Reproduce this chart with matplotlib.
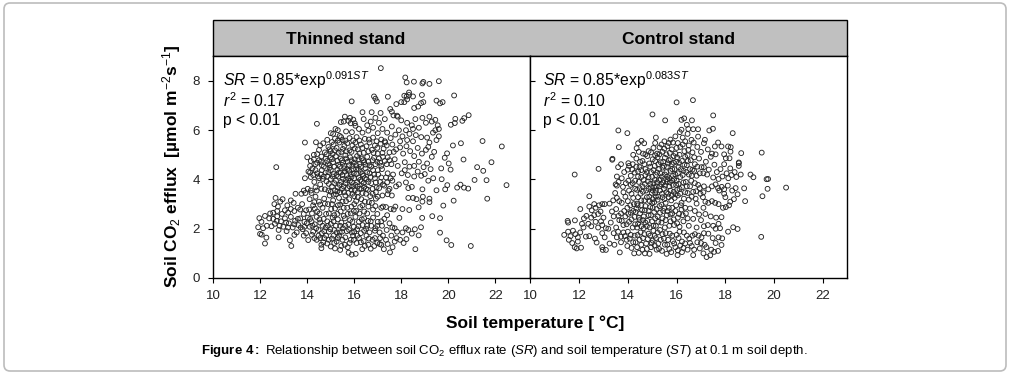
import numpy as np
import matplotlib
matplotlib.use('Agg')
import matplotlib.pyplot as plt
from matplotlib.patches import FancyBboxPatch, Rectangle

plt.rcParams['font.family'] = ['Liberation Sans', 'DejaVu Sans']
plt.rcParams['mathtext.fontset'] = 'custom'
plt.rcParams['mathtext.rm'] = 'Liberation Sans'
plt.rcParams['mathtext.it'] = 'Liberation Sans:italic'
plt.rcParams['mathtext.bf'] = 'Liberation Sans:bold'

W, H = 1016, 377

xticks = [10, 12, 14, 16, 18, 20, 22]
yticks = [0, 2, 4, 6, 8]

# punkty: (temperatura, efflux)
thinned = [
 # outer top
 (17.13,8.52),(18.17,8.14),(18.23,7.94),(18.54,7.97),(18.9,7.9),(18.94,7.96),(19.2,7.88),(19.6,7.99),(20.25,7.41),
 (19.5,7.2),(19.76,7.14),(19.65,7.09),(18.88,7.43),(18.94,7.14),(18.84,7.1),(18.55,6.9),(18.72,6.96),(18.13,7.14),
 (18.0,7.14),(18.23,7.37),(18.33,7.53),(18.13,7.4),(18.5,7.37),(18.33,7.43),(17.43,7.36),(16.84,7.37),(16.9,7.28),
 (16.96,7.17),(15.89,7.17),(17.79,7.06),(18.25,7.25),(16.35,6.73),(16.74,6.73),(17.12,6.7),(17.53,6.86),(17.6,6.75),
 (17.67,6.6),(17.82,6.59),(15.43,6.33),(14.41,6.26),(15.82,6.5),(15.96,6.43),(15.75,6.38),(16.02,6.28),(20.87,6.61),
 (20.68,6.49),(20.6,6.38),(20.3,6.46),(20.28,6.29),(20.11,6.22),(20.54,5.47),(20.2,5.38),(21.46,5.56),(22.28,5.34),
 (21.84,4.7),(20.65,4.81),(19.95,5.06),(19.85,4.88),(20.02,4.65),(13.9,5.5),(14.37,5.51),(14.68,5.47),(14.85,5.61),
 (15.0,5.88),(15.3,6.0),(15.38,5.77),
 # y 5.5 - 7
 (15.6,6.55),(15.55,6.35),(15.85,6.28),(16.05,6.18),(16.55,6.2),(16.4,6.45),(16.7,6.35),(16.9,6.5),(17.05,6.3),
 (17.3,6.45),(17.85,6.55),(18.0,6.4),(18.25,6.3),(18.45,6.2),(18.6,6.45),(18.75,6.1),(18.9,6.5),(19.05,6.3),(19.2,6.55),
 (19.3,6.35),(19.45,6.42),(19.55,6.2),(19.6,6.05),(19.45,6.0),(19.35,5.9),(16.2,6.05),(16.8,6.1),(17.2,6.05),(17.6,6.15),
 (17.9,6.0),(18.2,6.0),(18.5,6.05),(15.2,6.05),(15.1,5.85),(15.65,5.95),(15.9,5.92),(16.35,5.9),(16.6,5.98),(17.0,5.88),
 (17.4,5.9),(17.75,5.82),(18.05,5.75),(18.35,5.85),(18.62,5.8),(18.85,5.72),(19.1,5.7),(19.5,5.6),(19.6,5.75),(15.5,5.6),
 (15.8,5.68),(16.1,5.72),(16.45,5.65),(16.8,5.7),(17.15,5.62),(17.55,5.68),(17.95,5.55),(18.25,5.6),(18.5,5.55),(19.2,5.5),
 # y 4.5 - 5.5
 (14.42,5.03),(14.5,5.2),(14.6,4.93),(14.75,5.1),(14.9,5.32),(15.0,5.15),(15.12,5.42),(15.25,5.28),(15.37,5.5),(15.45,5.12),
 (15.58,5.36),(15.7,5.47),(15.8,5.18),(15.92,5.38),(16.05,5.5),(16.15,5.22),(16.28,5.42),(16.4,5.08),(16.52,5.35),(16.65,5.5),
 (16.75,5.2),(16.88,5.38),(17.0,5.05),(17.12,5.45),(17.25,5.25),(17.38,5.38),(17.5,5.1),(17.62,5.42),(17.78,5.22),(17.95,5.3),
 (18.08,5.05),(18.22,5.35),(18.38,5.15),(18.55,4.95),(18.7,5.28),(18.88,5.05),(19.05,5.2),(19.15,5.32),(19.3,4.92),(19.4,5.12),
 (14.0,4.9),(14.15,4.75),(14.28,5.0),(14.35,4.62),(14.5,4.78),(14.62,4.58),(14.78,4.85),(14.88,4.62),(15.0,4.9),(15.1,4.7),
 (15.22,4.95),(15.32,4.6),(15.42,4.85),(15.52,4.68),(15.62,4.98),(15.72,4.72),(15.82,4.9),(15.92,4.55),(16.02,4.82),(16.12,4.95),
 (16.22,4.62),(16.32,4.85),(16.42,4.7),(16.55,4.92),(16.65,4.58),(16.78,4.78),(16.9,4.62),(17.05,4.85),(17.15,4.55),(17.3,4.75),
 (17.42,4.9),(17.58,4.62),(17.72,4.82),(18.55,4.55),(18.75,4.72),(18.95,4.5),(19.1,4.65),(19.25,4.42),(19.7,4.45),(17.85,4.55),
 (18.15,4.7),(18.35,4.52),
 # y 3.5 - 4.5
 (12.68,4.5),(13.9,4.05),(14.05,4.32),(14.15,4.1),(14.22,4.45),(14.3,3.9),(14.35,3.68),(14.42,4.25),(14.5,4.05),(14.55,3.8),
 (14.62,4.38),(14.7,4.12),(14.75,3.6),(14.82,3.92),(14.9,4.3),(14.95,4.48),(15.0,4.02),(15.05,3.72),(15.12,4.22),(15.18,3.55),
 (15.22,3.95),(15.28,4.4),(15.32,4.12),(15.38,3.78),(15.42,4.28),(15.48,3.62),(15.52,4.02),(15.58,4.45),(15.62,3.85),(15.68,4.18),
 (15.72,3.65),(15.78,4.35),(15.82,3.95),(15.88,4.1),(15.92,3.72),(15.98,4.25),(16.02,3.55),(16.08,4.42),(16.12,3.88),(16.18,4.08),
 (16.22,3.62),(16.28,4.3),(16.32,3.92),(16.38,4.15),(16.42,3.7),(16.48,4.45),(16.52,4.0),(16.58,3.58),(16.65,4.25),(16.72,3.85),
 (16.8,4.38),(16.88,4.05),(16.95,3.68),(17.02,4.2),(17.1,3.9),(17.18,4.42),(17.28,3.75),(17.35,4.08),(17.5,3.62),(17.45,3.55),
 (17.62,3.95),(17.78,3.72),(17.65,4.2),(17.9,3.8),(18.02,4.25),(18.15,4.38),(18.28,4.18),(18.2,3.88),(18.3,3.65),(18.45,3.7),
 (18.55,4.12),(18.7,4.32),(18.85,4.15),(18.9,3.6),(19.0,4.22),(19.15,3.95),(19.36,4.05),(19.72,4.01),(19.5,3.56),(19.87,3.6),
 (19.96,3.77),(20.38,3.67),(20.52,3.79),(20.67,3.67),(20.85,3.63),(21.12,3.98),(21.63,3.97),(22.48,3.77),(21.23,4.5),(21.49,4.35),
 (20.1,4.4),(13.85,3.55),(14.02,3.62),(14.15,3.55),
 # y 2.5 - 3.5
 (12.6,3.0),(12.65,3.25),(12.75,2.9),(12.85,3.1),(12.95,3.2),(13.05,2.75),(13.15,2.95),(13.3,3.15),(13.42,3.05),(13.5,3.42),
 (13.75,3.42),(13.92,3.45),(13.6,2.85),(13.78,3.0),(13.95,2.75),(14.1,3.2),(14.18,3.45),(14.25,2.95),(14.35,3.3),(14.42,2.7),
 (14.5,3.1),(14.72,3.22),(14.65,2.85),(14.8,2.6),(14.88,3.0),(14.95,3.35),(15.02,2.8),(15.1,3.15),(15.15,2.55),
 (15.22,3.4),(15.3,2.95),(15.35,3.25),(15.42,2.7),(15.5,3.1),(15.55,2.52),(15.62,3.35),(15.7,2.85),(15.78,3.2),(15.85,2.62),
 (15.92,3.42),(16.0,3.0),(16.08,2.72),(16.15,3.28),(16.25,2.88),(16.35,3.45),(16.45,3.1),(16.55,2.62),(16.68,3.32),(16.8,2.78),
 (16.92,3.22),(17.15,2.85),(17.22,2.9),(17.35,2.88),(17.55,2.8),(17.75,2.9),(17.68,2.78),(18.05,2.8),(18.34,2.76),(18.74,2.87),
 (18.3,3.25),(18.5,3.25),(18.65,3.2),(18.92,3.3),(18.9,3.1),(19.2,3.22),(19.2,3.08),(19.79,2.94),(20.23,3.14),(21.66,3.22),
 (17.0,3.3),(17.2,3.35),(17.42,3.4),(17.6,3.35),(17.4,2.55),(17.92,2.44),(16.98,2.6),
 # y 1.8 - 2.5
 (11.96,2.43),(12.2,2.52),(11.91,2.06),(12.05,2.28),(12.12,2.02),(12.28,2.12),(12.38,2.42),(12.48,2.1),(12.55,2.4),(12.62,2.2),
 (12.72,2.5),(12.78,1.95),(12.88,2.3),(12.98,2.08),(13.05,2.42),(13.12,1.9),(13.22,2.22),(13.3,2.48),(13.38,2.05),(13.48,2.32),
 (13.55,1.85),(13.62,2.15),(13.7,2.42),(13.8,1.98),(13.88,2.28),(13.95,1.82),(14.02,2.45),(14.1,2.08),(14.18,2.3),(14.25,1.88),
 (14.32,2.18),(14.4,2.48),(14.48,1.95),(14.55,2.25),(14.62,1.82),(14.7,2.4),(14.78,2.05),(14.85,2.3),(14.92,1.88),(15.0,2.2),
 (15.08,2.45),(15.15,1.95),(15.22,2.12),(15.3,2.38),(15.38,1.85),(15.45,2.25),(15.52,2.02),(15.6,2.42),(15.68,1.9),(15.75,2.18),
 (15.82,2.35),(15.9,1.85),(15.98,2.08),(16.05,2.48),(16.12,1.98),(16.2,2.28),(16.28,1.82),(16.35,2.15),(16.42,2.42),(16.5,2.0),
 (16.58,2.32),(16.65,1.85),(16.72,2.12),(16.8,2.45),(16.9,2.02),(17.0,2.28),(17.08,1.85),(17.18,2.12),(17.28,2.4),(17.38,1.95),
 (17.5,2.22),(17.62,2.05),(17.72,2.02),(17.82,1.88),(18.2,2.02),(18.3,1.95),(18.05,1.85),(18.58,1.98),(18.84,2.06),(18.89,2.44),
 (19.32,2.51),(19.65,2.43),(19.65,1.84),(18.45,1.8),
 # y 0.9 - 1.8
 (11.99,1.79),(12.06,1.76),(12.2,1.4),(12.26,1.64),(12.78,1.65),(13.26,1.53),(13.32,1.3),(13.45,1.75),(14.04,1.54),(13.85,1.72),
 (14.2,1.75),(14.4,1.55),(14.48,1.72),(14.6,1.21),(14.6,1.35),(14.72,1.62),(14.85,1.4),(15.0,1.28),(15.05,1.6),(15.18,1.2),
 (15.25,1.48),(15.35,1.72),(15.4,1.14),(15.5,1.55),(15.6,1.35),(15.76,1.03),(15.72,1.25),(15.85,1.55),(15.89,0.95),(15.95,1.72),
 (16.06,0.98),(16.1,1.42),(16.2,1.62),(16.34,1.17),(16.4,1.5),(16.52,1.72),(16.6,1.35),(16.7,1.19),(16.78,1.55),(16.85,1.3),
 (16.98,1.42),(17.1,1.62),(17.15,1.35),(17.26,1.17),(17.35,1.55),(17.42,1.38),(17.52,1.04),(17.58,1.72),(17.63,1.25),(17.8,1.62),
 (17.72,1.48),(17.95,1.55),(18.1,1.42),(18.22,1.58),(18.6,1.17),(18.74,1.73),(19.93,1.53),(20.13,1.34),(20.96,1.3),
]

# gesty srodek chmury, szacowany
thinned_core = [
 (15.05,5.52),(15.18,5.66),(15.3,5.58),(15.44,5.72),(15.62,5.58),(15.95,5.58),(16.22,5.58),(16.62,5.62),(16.95,5.55),(17.3,5.55),
 (14.55,5.38),(14.82,5.02),(14.95,5.22),(15.08,5.03),(15.18,5.18),(15.33,5.08),(15.52,5.24),(15.66,5.14),(15.88,5.12),(16.02,5.26),
 (16.22,5.06),(16.35,5.28),(16.6,5.14),(16.82,5.08),(16.98,5.28),(17.2,5.08),(17.32,5.5),(17.68,5.12),(14.12,4.55),(14.28,4.82),
 (14.42,4.68),(14.58,4.72),(14.7,4.52),(14.84,4.75),(14.95,4.58),(15.05,4.82),(15.15,4.52),(15.28,4.75),(15.38,4.52),(15.48,4.78),
 (15.58,4.55),(15.66,4.85),(15.78,4.58),(15.88,4.78),(15.98,4.68),(16.08,4.58),(16.18,4.82),(16.28,4.52),(16.38,4.78),(16.48,4.6),
 (16.6,4.72),(16.72,4.52),(16.84,4.88),(16.98,4.72),(17.1,4.68),(17.22,4.92),(17.38,4.62),(17.5,4.78),(14.12,4.28),(14.25,4.18),
 (14.35,4.38),(14.45,4.12),(14.58,4.2),(14.66,4.02),(14.78,4.28),(14.85,4.12),(14.92,3.82),(15.0,4.38),(15.08,4.12),(15.15,3.85),
 (15.25,4.18),(15.3,3.68),(15.35,4.28),(15.44,3.9),(15.5,4.18),(15.55,3.72),(15.6,4.32),(15.65,3.98),(15.7,4.42),(15.75,4.05),
 (15.8,3.72),(15.85,4.22),(15.9,3.88),(15.95,4.42),(16.0,4.05),(16.05,3.78),(16.1,4.22),(16.15,3.72),(16.2,4.4),(16.25,3.98),
 (16.3,3.62),(16.35,4.22),(16.4,3.85),(16.45,4.05),(16.5,3.62),(16.55,4.3),(16.6,3.9),(16.7,4.1),(16.78,3.62),(16.85,4.2),
 (16.92,3.88),(17.0,4.38),(17.06,3.65),(17.15,4.08),(17.22,3.8),(17.4,3.88),(17.42,4.25),(17.55,4.05),(14.4,3.55),(14.6,3.62),
 (14.9,3.55),(15.0,3.5),(15.12,3.38),(15.28,3.52),(15.4,3.48),(15.56,3.48),(15.75,3.45),(15.88,3.58),(16.0,3.32),(16.15,3.48),
 (16.3,3.2),(16.5,3.42),(16.62,3.08),(16.78,3.42),(16.92,3.48),(14.3,3.08),(14.55,2.98),(14.75,3.02),(14.92,2.62),(15.05,3.0),
 (15.18,2.82),(15.28,2.6),(15.4,2.98),(15.55,2.85),(15.65,3.12),(15.72,2.6),(15.88,2.9),(15.98,2.72),(16.08,3.12),(16.22,2.62),
 (16.35,2.95),(16.42,2.7),(16.6,2.9),(16.75,3.05),(16.9,2.92),(13.45,2.72),(13.7,2.78),(13.85,2.6),(14.08,2.78),(14.2,2.62),
 (14.32,2.82),(14.52,2.62),(12.55,2.65),(12.72,2.72),(12.92,2.6),(13.18,2.65),(13.3,2.8),(12.42,2.62),(12.7,2.32),(12.82,2.12),
 (13.1,2.25),(13.18,2.05),(13.45,2.18),(13.6,2.4),(13.72,2.05),(13.88,2.08),(13.98,2.22),(14.12,2.4),(14.22,2.12),(14.38,2.02),
 (14.52,2.38),(14.65,2.12),(14.72,1.9),(14.88,2.12),(14.98,1.98),(15.12,2.3),(15.25,1.85),(15.4,2.12),(15.48,1.88),(15.62,2.12),
 (15.78,1.95),(15.92,2.28),(16.0,1.88),(16.18,2.1),(16.32,2.38),(16.42,1.92),(16.55,2.12),(16.7,2.3),(16.88,1.92),(16.98,2.12),
 (17.15,2.3),(14.3,1.62),(14.55,1.62),(14.68,1.45),(14.8,1.72),(14.92,1.55),(15.12,1.72),(15.15,1.42),(15.3,1.62),(15.45,1.3),
 (15.62,1.65),(15.8,1.42),(15.98,1.55),(16.12,1.72),(16.28,1.45),(16.45,1.3),(16.62,1.6),(16.88,1.62),(17.08,1.38),(17.22,1.72),
]

control = [
 # outer
 (16.0,7.13),(16.67,7.22),(15.01,6.64),(15.53,6.4),(17.5,6.6),(16.2,6.42),(16.31,6.48),(16.63,6.4),(13.61,5.99),(13.98,5.88),
 (17.49,6.06),(17.34,5.99),(18.3,5.88),(15.15,5.7),(13.63,5.31),(13.37,4.84),(18.65,5.07),(19.49,5.09),(16.42,6.22),(16.48,6.05),
 (16.68,6.04),(16.88,6.04),(16.2,6.02),(16.13,5.92),(14.56,5.57),(14.42,5.47),(14.67,5.47),(14.22,5.0),(14.36,5.27),(14.02,4.66),
 (18.55,4.66),(18.11,5.34),(18.22,5.31),(18.21,5.13),(18.17,4.86),(18.02,4.86),(17.7,5.5),(17.84,5.34),(17.57,5.34),(17.16,5.61),
 (17.12,5.47),(16.88,5.74),(16.61,5.61),(11.82,4.2),(12.8,4.43),(12.42,3.32),(13.36,4.8),(20.49,3.67),(19.73,3.62),(19.52,3.32),
 (19.75,4.02),(19.69,4.01),(19.03,4.2),(19.15,4.09),(18.63,4.2),(18.77,3.64),(18.81,3.12),(18.55,4.69),(18.55,4.55),(19.47,1.67),
 (18.5,1.99),(18.32,2.06),(18.11,1.88),(17.87,1.61),(17.84,1.34),(17.84,2.47),
 # y 5-6
 (15.5,5.55),(15.75,5.62),(15.95,5.75),(16.25,5.7),(16.45,5.85),(16.7,5.5),(16.05,5.48),(15.3,5.3),(15.05,5.28),(14.85,5.15),
 (14.62,5.05),(15.2,5.05),(15.42,5.12),(15.62,5.35),(15.8,5.22),(15.95,5.05),(16.15,5.32),(16.32,5.15),(16.5,5.38),(16.65,5.1),
 (16.85,5.32),(17.0,5.12),(17.28,5.22),(17.45,5.05),(17.6,5.02),(17.95,5.02),(14.45,5.12),(15.58,5.02),(15.85,5.5),(16.35,5.55),
 # y 4-5
 (14.2,4.62),(14.35,4.85),(14.48,4.5),(14.6,4.75),(14.72,4.42),(14.8,4.95),(14.88,4.65),(14.95,4.3),(15.02,4.82),(15.1,4.55),
 (15.15,4.18),(15.22,4.9),(15.28,4.42),(15.35,4.7),(15.4,4.12),(15.48,4.55),(15.52,4.88),(15.58,4.3),(15.65,4.65),(15.7,4.05),
 (15.75,4.82),(15.82,4.42),(15.88,4.68),(15.95,4.2),(16.02,4.9),(16.08,4.5),(16.15,4.1),(16.22,4.75),(16.28,4.35),(16.35,4.92),
 (16.42,4.58),(16.5,4.2),(16.58,4.78),(16.65,4.4),(16.75,4.62),(16.82,4.15),(16.92,4.85),(17.02,4.5),(17.1,4.25),(17.2,4.72),
 (17.32,4.4),(17.4,4.92),(17.55,4.6),(17.65,4.3),(17.8,4.42),(17.95,4.62),(18.05,4.25),(18.2,4.45),(18.38,4.3),(18.45,4.1),
 (13.6,4.5),(13.72,4.62),(13.85,4.3),(14.0,4.4),(14.12,4.15),(14.28,4.28),(13.55,4.12),(13.75,4.05),(14.55,4.1),(14.05,4.55),
 (17.5,4.08),(17.72,4.02),(17.88,4.12),(18.12,4.05),(18.25,4.18),(14.42,4.32),
 # y 3-4
 (13.5,3.8),(13.62,3.9),(13.8,3.7),(13.92,3.85),(14.05,3.55),(13.55,3.75),(13.4,3.15),(13.55,3.25),(13.75,3.05),(13.9,3.3),
 (14.12,3.78),(14.22,3.25),(14.3,3.62),(14.38,3.02),(14.45,3.9),(14.52,3.42),(14.6,3.72),(14.68,3.15),(14.75,3.55),(14.82,3.92),
 (14.88,3.3),(14.95,3.68),(15.0,3.05),(15.05,3.85),(15.12,3.45),(15.18,3.72),(15.22,3.18),(15.28,3.98),(15.32,3.55),(15.38,3.8),
 (15.42,3.28),(15.48,3.62),(15.55,3.05),(15.6,3.9),(15.65,3.42),(15.7,3.72),(15.78,3.15),(15.82,3.95),(15.88,3.5),(15.92,3.25),
 (15.98,3.78),(16.05,3.35),(16.12,3.62),(16.2,3.05),(16.28,3.88),(16.35,3.48),(16.42,3.72),(16.5,3.18),(16.6,3.95),(16.68,3.5),
 (16.78,3.22),(16.88,3.78),(16.98,3.42),(17.08,3.28),(17.18,3.1),(17.3,3.05),(17.45,3.12),(17.58,3.05),(17.72,3.0),(17.45,3.72),
 (17.6,3.8),(17.7,3.65),(17.85,3.7),(17.95,3.6),(18.1,3.75),(18.28,3.55),(18.42,3.65),(18.5,3.4),(18.35,3.2),(18.2,3.1),
 (18.0,3.28),(17.9,2.85),(18.02,2.88),(18.15,2.95),(17.95,3.42),(17.75,3.55),(17.3,3.6),(17.12,3.72),(16.82,3.02),(15.02,3.55),
 # y 2-3
 (12.05,2.8),(12.42,2.9),(12.52,2.75),(12.62,3.0),(12.68,2.85),(12.82,2.95),(12.95,3.0),(13.05,3.0),(13.25,3.02),(13.35,2.7),
 (12.3,2.52),(12.2,2.42),(12.5,2.45),(12.62,2.55),(12.78,2.6),(12.88,2.7),(13.0,2.45),(13.3,2.25),(13.42,2.5),(13.52,2.8),
 (13.65,2.35),(13.72,2.62),(13.82,2.15),(13.9,2.5),(13.98,2.85),(14.05,2.28),(14.12,2.65),(14.2,2.05),(14.28,2.48),(14.35,2.82),
 (14.42,2.2),(14.5,2.62),(14.55,2.95),(14.62,2.35),(14.7,2.75),(14.78,2.1),(14.85,2.55),(14.92,2.88),(15.0,2.3),(15.08,2.68),
 (15.15,2.12),(15.22,2.5),(15.3,2.92),(15.38,2.25),(15.45,2.72),(15.52,2.05),(15.6,2.55),(15.68,2.85),(15.75,2.3),(15.82,2.62),
 (15.9,2.15),(15.98,2.95),(16.05,2.45),(16.12,2.08),(16.2,2.78),(16.28,2.3),(16.38,2.62),(16.5,2.12),(16.55,2.82),(16.68,2.4),
 (16.75,2.72),(16.82,2.05),(16.92,2.58),(17.0,2.35),(17.1,2.85),(17.18,2.6),(17.28,2.15),(17.4,2.5),(17.5,2.12),(17.62,2.45),
 (17.72,2.2),(17.78,2.02),(17.6,2.0),(17.12,2.1),(12.12,2.2),(12.95,2.15),(13.1,2.02),(13.2,2.0),(11.53,2.32),(11.83,2.34),
 (11.55,2.25),(12.18,2.05),(12.38,2.2),(12.5,2.1),(12.68,2.28),(12.78,2.05),(12.9,2.3),
 # y 0.8-2
 (11.39,1.75),(11.55,1.88),(11.65,1.7),(11.75,1.92),(11.85,1.78),(11.95,1.65),(12.05,1.85),(12.28,1.68),(12.42,1.7),(12.65,1.6),
 (12.72,1.44),(12.95,1.82),(13.05,1.65),(11.58,1.55),(11.72,1.42),(11.82,1.25),(11.9,1.2),(12.08,1.23),(11.95,1.48),(13.1,1.14),
 (12.95,1.25),(12.97,1.14),(13.25,1.4),(13.45,1.35),(13.55,1.65),(13.67,1.04),(13.72,1.45),(13.88,1.7),(13.98,1.3),(14.08,1.6),
 (14.15,1.22),(14.26,1.0),(14.32,1.45),(14.4,1.75),(14.45,1.02),(14.55,1.35),(14.62,1.62),(14.7,1.0),(14.75,1.4),(14.85,1.8),
 (14.89,0.98),(14.95,1.25),(15.02,1.52),(15.1,1.72),(15.18,1.15),(15.25,1.4),(15.32,1.95),(15.4,1.1),(15.48,1.6),(15.59,0.98),
 (15.62,1.35),(15.72,1.8),(15.78,1.05),(15.85,1.5),(15.95,1.25),(16.04,0.93),(16.08,1.62),(16.15,1.32),(16.22,1.05),(16.3,1.85),
 (16.35,1.4),(16.45,1.15),(16.52,1.6),(16.68,0.93),(16.62,1.3),(16.75,1.78),(16.85,1.45),(16.95,1.2),(17.02,1.65),(17.1,1.0),
 (17.15,1.35),(17.23,0.85),(17.3,1.8),(17.42,1.15),(17.54,1.06),(17.7,1.1),(17.6,1.42),(17.72,1.65),(17.48,1.62),(17.38,0.92),
]

# gesty srodek chmury, szacowany
control_core = [
 (15.12,5.48),(15.38,5.42),(15.68,5.48),(16.0,5.28),(16.25,5.42),(16.48,5.2),(14.72,5.02),(14.95,5.1),(15.12,4.98),(15.3,5.02),
 (15.5,5.25),(15.72,5.08),(15.88,4.95),(16.12,5.0),(16.45,4.98),(16.72,4.9),(14.5,4.72),(14.68,4.62),(14.78,4.3),(14.92,4.52),
 (15.05,4.38),(15.12,4.75),(15.2,4.28),(15.25,4.62),(15.33,4.25),(15.42,4.48),(15.45,4.72),(15.52,4.2),(15.6,4.52),(15.62,4.12),
 (15.68,4.78),(15.75,4.35),(15.8,4.62),(15.85,4.15),(15.92,4.42),(15.98,4.72),(16.05,4.25),(16.1,4.68),(16.18,4.42),(16.25,4.18),
 (16.32,4.6),(16.4,4.3),(16.46,4.75),(16.55,4.42),(16.62,4.15),(16.72,4.35),(16.85,4.52),(16.95,4.25),(17.12,4.5),(17.25,4.2),
 (14.18,4.4),(14.35,4.52),(14.42,4.12),(14.55,4.38),(14.65,3.98),(14.72,4.18),(14.85,4.08),(14.92,3.82),(15.0,4.1),(15.08,3.68),
 (15.1,3.98),(15.15,3.55),(15.2,3.88),(15.25,3.3),(15.3,3.72),(15.35,4.0),(15.4,3.42),(15.45,3.88),(15.5,3.2),(15.52,3.75),
 (15.58,3.48),(15.62,4.0),(15.68,3.28),(15.72,3.88),(15.75,3.55),(15.8,3.35),(15.85,3.78),(15.9,4.02),(15.95,3.4),(16.0,3.95),
 (16.02,3.58),(16.08,3.82),(16.15,3.42),(16.22,3.68),(16.3,3.22),(16.38,3.9),(16.45,3.45),(16.55,3.72),(16.62,3.3),(16.75,3.85),
 (16.8,3.52),(16.95,3.65),(17.1,3.48),(14.02,3.95),(14.2,3.85),(14.3,3.95),(14.38,3.58),(14.42,3.28),(14.48,3.65),(14.55,3.15),
 (14.62,3.5),(14.7,3.82),(14.78,3.28),(14.85,3.62),(14.9,3.12),(14.98,3.45),(15.02,3.2),(15.08,3.08),(15.15,3.3),(14.0,3.12),
 (14.15,3.42),(14.25,3.0),(14.1,2.95),(13.65,3.12),(13.82,3.48),(13.48,3.45),(14.32,2.68),(14.4,2.95),(14.45,2.45),(14.58,2.75),
 (14.65,2.5),(14.72,2.92),(14.8,2.32),(14.85,2.72),(14.95,2.55),(15.02,2.85),(15.05,2.12),(15.12,2.42),(15.18,2.8),(15.25,2.28),
 (15.32,2.65),(15.38,2.98),(15.42,2.42),(15.5,2.82),(15.55,2.35),(15.62,2.72),(15.7,2.12),(15.75,2.58),(15.82,2.85),(15.88,2.38),
 (15.95,2.72),(16.02,2.22),(16.1,2.6),(16.18,2.95),(16.25,2.55),(16.35,2.85),(16.45,2.42),(13.52,2.05),(13.62,2.52),(13.75,2.32),
 (13.85,2.72),(13.95,2.18),(14.02,2.6),(14.15,2.38),(14.22,2.72),(14.3,2.18),(14.38,2.05),(14.48,2.35),(14.55,2.1),(14.65,2.02),
 (14.72,2.25),(14.9,2.05),(13.42,1.82),(13.6,1.88),(13.72,1.68),(13.82,1.85),(13.95,1.55),(14.0,1.88),(14.12,1.75),(14.22,1.45),
 (14.28,1.72),(14.38,1.25),(14.48,1.55),(14.52,1.85),(14.6,1.15),(14.68,1.78),(14.78,1.18),(14.82,1.58),(14.92,1.72),(14.98,1.42),
 (15.05,1.92),(15.1,1.32),(15.15,1.62),(15.22,1.85),(15.28,1.18),(15.35,1.55),(15.42,1.78),(15.52,1.35),(15.55,1.82),(15.65,1.55),
 (15.7,1.18),(15.82,1.72),(15.9,1.4),(16.0,1.75),(16.05,1.12),(16.12,1.88),(16.22,1.48),(16.28,1.22),(16.42,1.72),(16.55,1.42),
 (16.65,1.72),(16.72,1.15),(16.9,1.72),(17.0,1.42),(17.12,1.82),(17.22,1.25),
]

fig = plt.figure(figsize=(W / 100, H / 100), dpi=100)

def px_axes(x0, x1, y0, y1):
    return fig.add_axes([x0 / W, 1 - y1 / H, (x1 - x0) / W, (y1 - y0) / H])

# ramka wokol calej figury
fig.add_artist(FancyBboxPatch((4 / W, 1 - 371 / H), 1002 / W, 368 / H, transform=fig.transFigure,
                              boxstyle='round,pad=0,rounding_size=0.006', mutation_aspect=W / H,
                              fc='white', ec='#bcbcbc', lw=1.2, zorder=-5))

ax1 = px_axes(213.3, 530, 56.3, 278)
ax2 = px_axes(530.3, 847.3, 56.3, 278)
panels = [(ax1, thinned + thinned_core, 23.48, 'out', 'Thinned stand', '0.091', '0.17', 345.5, 223),
          (ax2, control + control_core, 23, 'in', 'Control stand', '0.083', '0.10', 678, 543)]

for ax, pts, xmax, tdir, title, b, r2, title_x, text_x in panels:
    pts = np.array(pts)
    ax.scatter(pts[:, 0], pts[:, 1], s=12, facecolors='none', edgecolors='#262626', linewidths=0.65, clip_on=False)
    ax.set_xlim(10, xmax)
    ax.set_ylim(0, 9)
    ax.set_xticks(xticks)
    ax.set_yticks(yticks)
    ax.tick_params(axis='x', direction='out', length=3.5, width=0.8, labelsize=9.5, pad=5, labelcolor='#222222')
    ax.tick_params(axis='y', direction=tdir, length=3.5, width=0.8, labelsize=9.5, pad=6, labelcolor='#222222')
    for s in ax.spines.values():
        s.set_linewidth(1)
    tx = text_x / W
    fig.text(tx, 1 - 86 / H, r'$\mathit{SR}$ = 0.85*exp$^{%s\mathit{ST}}$' % b, fontsize=11.3, va='baseline')
    fig.text(tx, 1 - 107 / H, r'$\mathit{r}^2$ = %s' % r2, fontsize=11.3, va='baseline')
    fig.text(tx, 1 - 125 / H, 'p < 0.01', fontsize=11.3, va='baseline')
    fig.text(title_x / W, 1 - 39 / H, title, fontsize=12.5, fontweight='bold', ha='center', va='center')

ax2.set_yticklabels([])

# szary pasek z tytulami
fig.add_artist(Rectangle((213.3 / W, 1 - 56.3 / H), 634 / W, 36 / H, transform=fig.transFigure,
                         fc='#c0c0c0', ec='black', lw=1, zorder=-1))

fig.text(172 / W, 1 - 166 / H, r'Soil CO$_2$ efflux  [µmol m$^{-2}$s$^{-1}$]', rotation=90,
         fontsize=12.5, fontweight='bold', ha='center', va='center')
fig.text(535 / W, 1 - 323 / H, 'Soil temperature [ °C]', fontsize=12.5, fontweight='bold', ha='center', va='center')
fig.text(504 / W, 1 - 351 / H,
         r'$\mathbf{Figure\ 4:}$ Relationship between soil CO$_2$ efflux rate ($\mathit{SR}$) and soil temperature ($\mathit{ST}$) at 0.1 m soil depth.',
         fontsize=9.5, ha='center', va='center')

fig.savefig('out.png', dpi=100)
